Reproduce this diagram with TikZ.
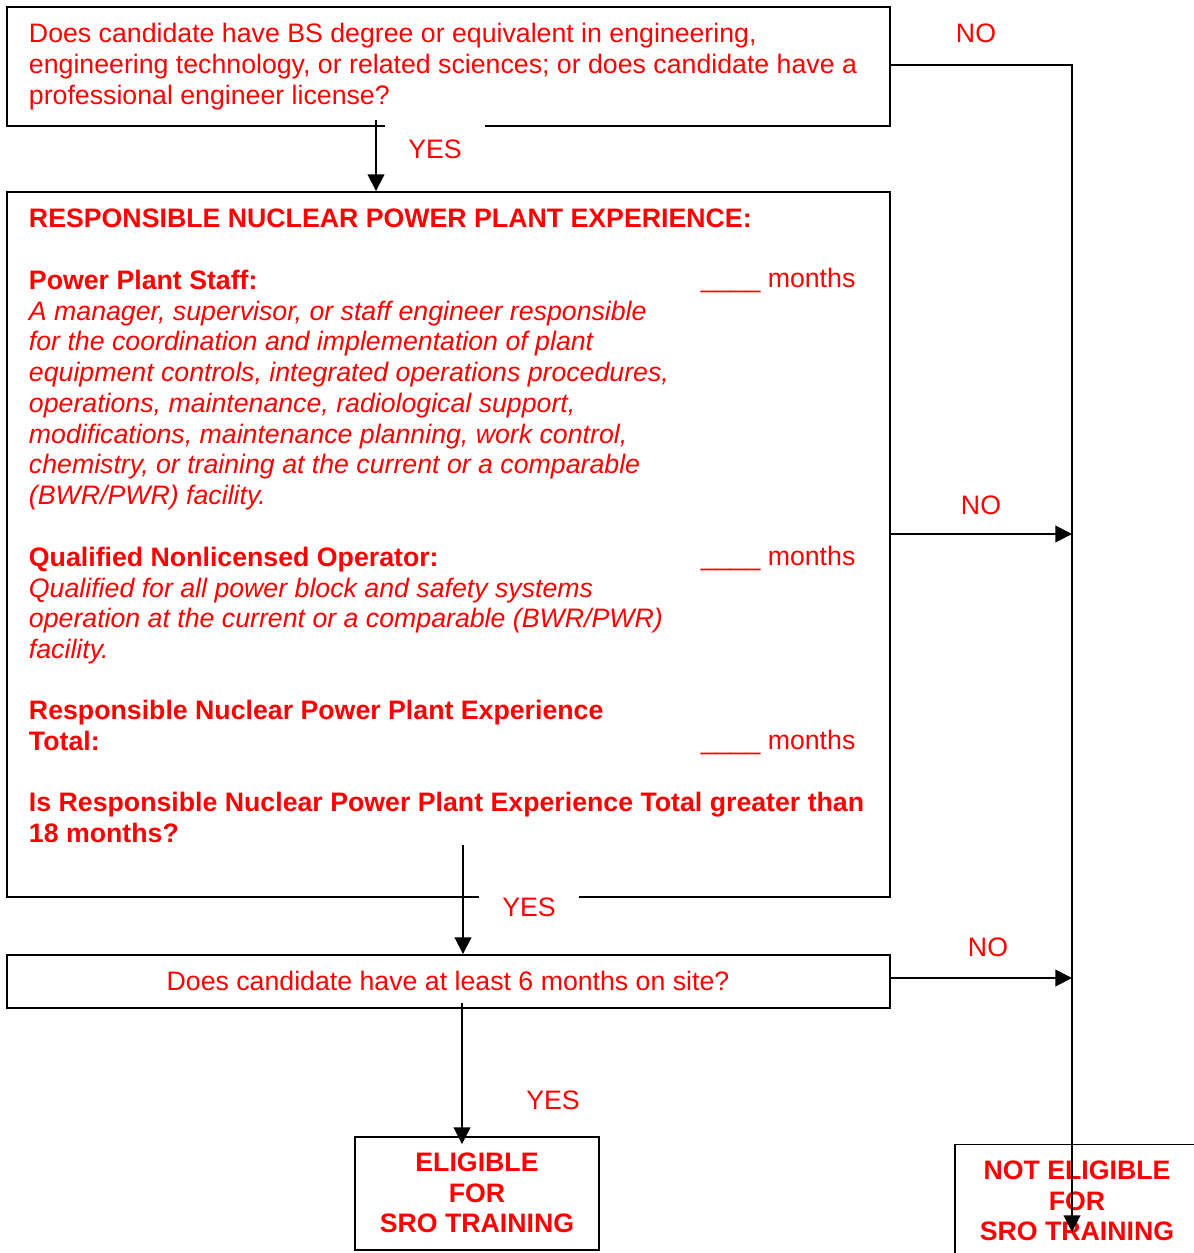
\documentclass[tikz,border=0pt]{standalone}
\usepackage{fontspec}
\setmainfont{Liberation Sans}
\usetikzlibrary{arrows.meta,positioning,calc}

\begin{document}
\begin{tikzpicture}[>={Triangle[length=9.5pt,width=9.5pt]},line width=1.1pt,
  box/.style={draw,rectangle,inner sep=0pt},
  txt/.style={red,inner sep=0pt,align=left,font=\fontsize{15.2}{17.5}\selectfont},
  lbl/.style={red,font=\fontsize{15.2}{17.5}\selectfont},
  gap/.style={lbl,fill=white,minimum width=2cm,minimum height=1.1cm}]
\useasboundingbox (0,0) rectangle (23.86,-25.06);
% boxes
\node[box,minimum width=17.66cm,minimum height=2.38cm] (q1) at (8.97,-1.33) {};
\node[box,minimum width=17.66cm,minimum height=14.10cm] (exp) at (8.97,-10.89) {};
\node[box,minimum width=17.66cm,minimum height=1.06cm] (q3) at (8.97,-19.63) {};
\node[box,minimum width=4.88cm,minimum height=2.26cm] (elig) at (9.54,-23.87) {};
\node[box,minimum width=4.88cm,minimum height=2.26cm] (nelig) at (21.54,-24.02) {};
% texts
\node[txt,anchor=north west] (q1t) at (0.56,-0.45) {Does candidate have BS degree or equivalent in engineering,\\engineering technology, or related sciences; or does candidate have a\\professional engineer license?};
\node[txt,anchor=north west] (title) at (0.56,-4.16) {\bfseries RESPONSIBLE NUCLEAR POWER PLANT EXPERIENCE:};
\node[txt,anchor=north west] (staff) at (0.56,-5.38) {\bfseries Power Plant Staff:\\\itshape A manager, supervisor, or staff engineer responsible\\\itshape for the coordination and implementation of plant\\\itshape equipment controls, integrated operations procedures,\\\itshape operations, maintenance, radiological support,\\\itshape modifications, maintenance planning, work control,\\\itshape chemistry, or training at the current or a comparable\\\itshape (BWR/PWR) facility.};
\node[txt,anchor=north west] (nlo) at (0.56,-10.92) {\bfseries Qualified Nonlicensed Operator:\\\itshape Qualified for all power block and safety systems\\\itshape operation at the current or a comparable (BWR/PWR)\\\itshape facility.};
\node[txt,anchor=north west] (total) at (0.56,-13.98) {\bfseries Responsible Nuclear Power Plant Experience\\\bfseries Total:};
\node[txt,anchor=north west] (isq) at (0.56,-15.82) {\bfseries Is Responsible Nuclear Power Plant Experience Total greater than\\\bfseries 18 months?};
\node[txt,anchor=base west] (m1) at (14.00,-5.76) {\_\_\_\_ months};
\node[txt,anchor=base west] (m2) at (14.00,-11.30) {\_\_\_\_ months};
\node[txt,anchor=base west] (m3) at (14.00,-14.98) {\_\_\_\_ months};
\node[lbl] (q3t) at (8.96,-19.62) {Does candidate have at least 6 months on site?};
\node[lbl,align=center,font=\fontsize{15.2}{17.5}\selectfont\bfseries] (eligt) at (9.54,-23.86) {ELIGIBLE\\FOR\\SRO TRAINING};
\node[lbl,align=center,font=\fontsize{15.2}{17.5}\selectfont\bfseries] (neligt) at (21.54,-24.02) {NOT ELIGIBLE\\FOR\\SRO TRAINING};
% labels
\node[gap] (yes1) at (8.70,-2.98) {YES};
\node[gap,minimum height=0.8cm] (yes2) at (10.58,-18.14) {YES};
\node[lbl] (yes3) at (11.06,-22.00) {YES};
\node[lbl] (no1) at (19.52,-0.66) {NO};
\node[lbl] (no2) at (19.62,-10.10) {NO};
\node[lbl] (no3) at (19.76,-18.94) {NO};
% connectors
\coordinate (a1) at (7.52,-2.40);
\coordinate (a2) at (9.26,-16.90);
\coordinate (a3) at (9.24,-20.06);
\coordinate (trunk) at (21.44,-1.30);
\coordinate (tend) at (21.44,-24.64);
\coordinate (j2) at (21.44,-10.68);
\coordinate (j3) at (21.44,-19.56);
\draw[->] (a1) -- (a1 |- exp.north);
\draw[->] (a2) -- (a2 |- q3.north);
\draw[->] (a3) -- ($(a3 |- elig.north)+(0,-0.16)$);
\draw[->] (q1.east |- trunk) -- (trunk) -- (tend);
\draw[->] (exp.east |- j2) -- (j2);
\draw[->] (q3.east |- j3) -- (j3);
\end{tikzpicture}
\end{document}
